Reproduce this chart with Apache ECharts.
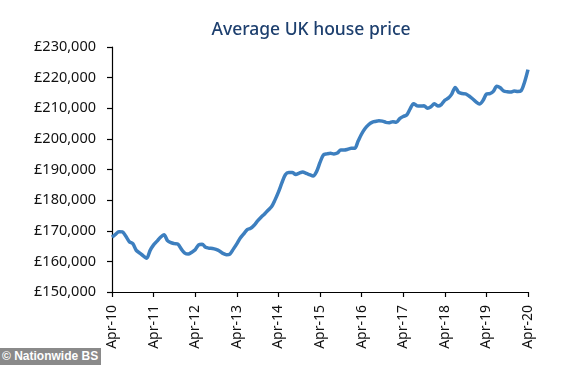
<!DOCTYPE html>
<html>
<head>
<meta charset="utf-8">
<script src="https://cdn.jsdelivr.net/npm/echarts@6/dist/echarts.min.js"></script>
<style>
html,body{margin:0;padding:0;background:#fff;}
#c{width:574px;height:365px;}
#credit{position:absolute;left:0;top:348px;height:17px;padding:0 3px 0 2px;background:#8a8a8a;color:#fff;font:bold 12px "Liberation Sans",Arial,sans-serif;line-height:17px;}
</style>
</head>
<body>
<div id="c"></div>
<div id="credit">© Nationwide BS</div>
<script>
// Monthly average price, Apr 2010 – Apr 2020 (thousands of £)
const priceK = [
167.9,168.8,169.7,169.6,168.2,166.4,165.8,163.6,162.7,161.8,161.0,163.6,
165.4,166.6,167.9,168.7,166.8,166.1,165.8,165.6,164.0,162.7,162.4,163.0,
163.8,165.4,165.6,164.6,164.3,164.2,163.9,163.4,162.6,162.2,162.4,164.0,
165.7,167.6,169.0,170.4,170.8,171.8,173.2,174.4,175.5,176.7,177.8,180.0,
182.6,185.6,188.3,189.0,189.0,188.4,188.8,189.2,188.7,188.3,187.9,189.3,
192.3,194.8,195.1,195.3,195.1,195.4,196.4,196.4,196.6,196.9,196.9,199.3,
201.6,203.4,204.6,205.4,205.7,205.9,205.8,205.4,205.3,205.6,205.4,206.6,
207.3,207.8,209.8,211.5,210.8,210.7,210.8,210.0,210.5,211.5,210.7,211.2,
212.6,213.3,214.6,216.8,215.2,214.8,214.7,214.0,213.1,212.1,211.4,212.5,
214.6,214.8,215.5,217.2,216.7,215.6,215.4,215.3,215.6,215.5,215.7,218.5,
222.6
];
const monthNames = ['Jan','Feb','Mar','Apr','May','Jun','Jul','Aug','Sep','Oct','Nov','Dec'];
const categories = [];
for (let i = 0; i < priceK.length; i++) {
  const m = (3 + i) % 12;
  const y = 10 + Math.floor((3 + i) / 12);
  categories.push(monthNames[m] + '-' + String(y).padStart(2, '0'));
}
const values = priceK.map(v => Math.round(v * 1000));
const yTicks = {min: 150000, max: 230000, step: 10000};

const chart = echarts.init(document.getElementById('c'), null, {renderer: 'canvas'});
chart.setOption({
  animation: false,
  title: {
    text: 'Average UK house price',
    left: 306, top: 16, textAlign: 'center',
    textStyle: {color: '#1d3f6e', fontSize: 17.5, fontWeight: 500, fontFamily: 'Noto Sans'}
  },
  grid: {left: 112, right: 46, top: 47, bottom: 73, containLabel: false},
  xAxis: {
    type: 'category',
    data: categories,
    boundaryGap: false,
    axisLine: {lineStyle: {color: '#000', width: 1.2}},
    axisTick: {interval: 11, length: 5, lineStyle: {color: '#000', width: 1.2}},
    axisLabel: {interval: 11, rotate: 90, margin: 13, color: '#111', fontSize: 14, fontFamily: 'Noto Sans'},
    splitLine: {show: false}
  },
  yAxis: {
    type: 'value',
    min: yTicks.min, max: yTicks.max, interval: yTicks.step,
    axisLine: {show: true, lineStyle: {color: '#000', width: 1.2}},
    axisTick: {show: true, length: 5, lineStyle: {color: '#000', width: 1.2}},
    axisLabel: {
      margin: 16, color: '#111', fontSize: 14.5, fontFamily: 'Noto Sans',
      formatter: v => '£' + v.toLocaleString('en-GB')
    },
    splitLine: {show: false}
  },
  series: [{
    type: 'line',
    data: values,
    showSymbol: false,
    smooth: 0.3,
    lineStyle: {color: '#3d7fbf', width: 3.5},
    itemStyle: {color: '#3d7fbf'}
  }]
});
</script>
</body>
</html>
